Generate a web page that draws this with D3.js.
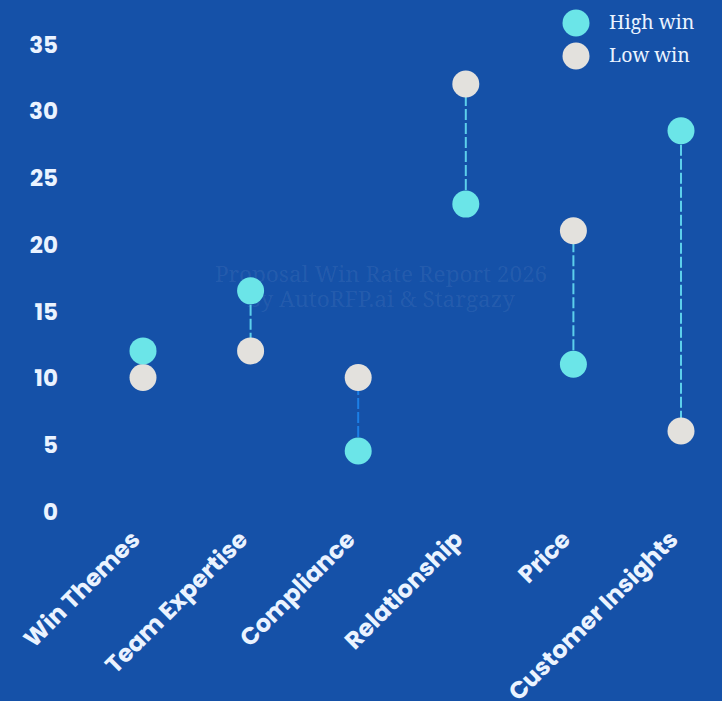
<!DOCTYPE html>
<html>
<head>
<meta charset="utf-8">
<script src="https://cdn.jsdelivr.net/npm/d3@7"></script>
<style>
  html, body { margin: 0; padding: 0; background: #1551a8; }
  svg { display: block; }
</style>
</head>
<body>
<svg id="chart" width="722" height="701"></svg>
<script>
const categories = ["Win Themes", "Team Expertise", "Compliance", "Relationship", "Price", "Customer Insights"];
const highWin = [12, 16.5, 4.5, 23, 11, 28.5];
const lowWin = [10, 12, 10, 32, 21, 6];
const yTicks = [0, 5, 10, 15, 20, 25, 30, 35];
const seriesNames = ["High win", "Low win"];
const watermarkLines = ["Proposal Win Rate Report 2026", "by AutoRFP.ai & Stargazy"];
const blueConnector = ["Compliance"];

const W = 722, H = 701;
const colors = { high: "#6be5e8", low: "#e3e1dd", bg: "#1551a8", text: "#eaf3ff" };
const sans = "Poppins, 'DejaVu Sans', sans-serif";
const serif = "'Noto Serif', 'DejaVu Serif', serif";

const svg = d3.select("#chart");
svg.append("rect").attr("width", W).attr("height", H).attr("fill", colors.bg);

const x = d3.scalePoint().domain(categories).range([143, 681]);
const y = d3.scaleLinear().domain([0, 35]).range([511, 44]);

// watermark
const wm = svg.append("text")
  .attr("x", 381).attr("y", 282)
  .attr("text-anchor", "middle")
  .attr("font-family", serif)
  .attr("font-size", 22.5)
  .attr("fill", "#ffffff").attr("fill-opacity", 0.07);
watermarkLines.forEach((l, i) => wm.append("tspan").attr("x", 381).attr("dy", i === 0 ? 0 : 25).text(l));

// y axis
const yAxis = d3.axisLeft(y).tickValues(yTicks).tickSize(0).tickPadding(0);
const gy = svg.append("g").attr("transform", "translate(58,0)").call(yAxis);
gy.select(".domain").remove();
gy.selectAll("text")
  .attr("font-family", sans).attr("font-weight", 700).attr("font-size", 23)
  .attr("fill", colors.text).attr("dy", "0.36em");

// x axis
const xAxis = d3.axisBottom(x).tickSize(0).tickPadding(0);
const gx = svg.append("g").attr("transform", "translate(0,530)").call(xAxis);
gx.select(".domain").remove();
gx.selectAll("text")
  .attr("font-family", sans).attr("font-weight", 700).attr("font-size", 24)
  .attr("fill", colors.text)
  .attr("text-anchor", "end")
  .attr("y", 0).attr("dy", 0)
  .attr("transform", "translate(-2,11) rotate(-45)");

const rows = categories.map((c, i) => ({ c, high: highWin[i], low: lowWin[i] }));

// connectors
svg.append("g").selectAll("line").data(rows).join("line")
  .attr("x1", d => x(d.c)).attr("x2", d => x(d.c))
  .attr("y1", d => y(d.high)).attr("y2", d => y(d.low))
  .attr("stroke", d => blueConnector.includes(d.c) ? "#1c7fe6" : "#5ccfeb")
  .attr("stroke-width", 2)
  .attr("stroke-dasharray", "11,3");

// points
svg.append("g").selectAll("circle.low").data(rows).join("circle")
  .attr("class", "low")
  .attr("cx", d => x(d.c)).attr("cy", d => y(d.low)).attr("r", 13.5)
  .attr("fill", colors.low);
svg.append("g").selectAll("circle.high").data(rows).join("circle")
  .attr("class", "high")
  .attr("cx", d => x(d.c)).attr("cy", d => y(d.high)).attr("r", 13.5)
  .attr("fill", colors.high);

// legend
const legend = svg.append("g");
seriesNames.forEach((n, i) => {
  const gy0 = 23 + i * 33;
  legend.append("circle").attr("cx", 576).attr("cy", gy0).attr("r", 13.5)
    .attr("fill", i === 0 ? colors.high : colors.low);
  legend.append("text").attr("x", 609).attr("y", gy0)
    .attr("dy", "0.32em")
    .attr("font-family", serif).attr("font-size", 19.5)
    .attr("fill", colors.text).text(n);
});
</script>
</body>
</html>
